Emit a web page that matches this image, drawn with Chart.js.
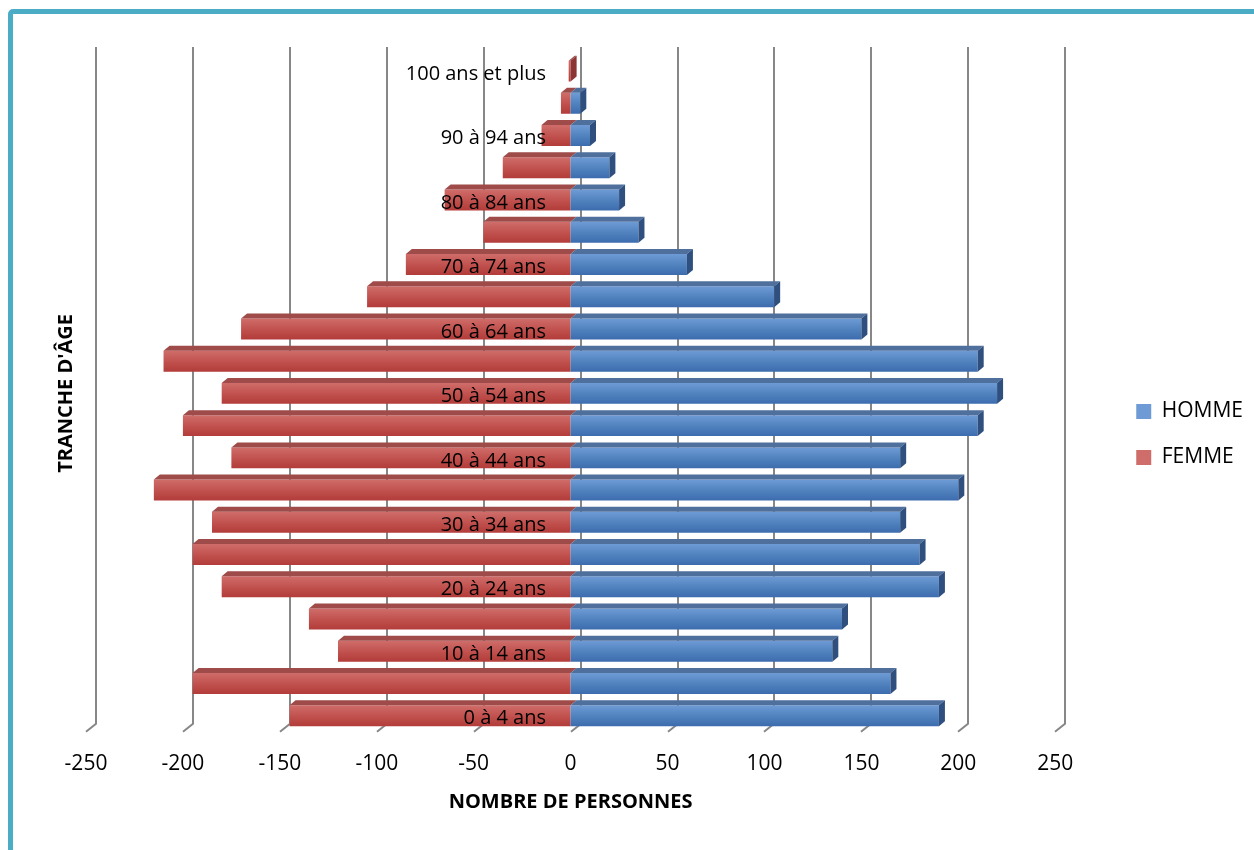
<!DOCTYPE html>
<html lang="fr">
<head>
<meta charset="utf-8">
<title>Pyramide des âges</title>
<script src="https://cdn.jsdelivr.net/npm/chart.js@4.4.1/dist/chart.umd.min.js"></script>
<style>
  html, body { margin: 0; padding: 0; background: #fff; overflow: hidden; }
  #wrap { position: relative; width: 1254px; height: 850px; overflow: hidden; }
  #frame { position: absolute; left: 8px; top: 9px; width: 1300px; height: 900px;
           border: 5px solid #4bacc6; border-radius: 5px; box-sizing: border-box; }
  #topTitle { position: absolute; left: 0; top: -26px; width: 1256px; text-align: center;
              font: italic 22px "Open Sans", sans-serif; line-height: 22px; color: #1f497d; white-space: nowrap; }
  #chart { position: absolute; left: 0; top: 0; }
</style>
</head>
<body>
<div id="wrap">
  <div id="frame"></div>
  <div id="topTitle">Graphique 2 : pyramide des âges de la population, 2012</div>
  <canvas id="chart" width="1254" height="850"></canvas>
</div>
<script>
// tranches d'âge, de la plus jeune (en bas) à la plus âgée (en haut)
const categories = ["0 à 4 ans", "5 à 9 ans", "10 à 14 ans", "15 à 19 ans", "20 à 24 ans",
  "25 à 29 ans", "30 à 34 ans", "35 à 39 ans", "40 à 44 ans", "45 à 49 ans", "50 à 54 ans",
  "55 à 59 ans", "60 à 64 ans", "65 à 69 ans", "70 à 74 ans", "75 à 79 ans", "80 à 84 ans",
  "85 à 89 ans", "90 à 94 ans", "95 à 99 ans", "100 ans et plus"];
const hommes = [190, 165, 135, 140, 190, 180, 170, 200, 170, 210, 220, 210, 150, 105, 60, 35, 25, 20, 10, 5, 0];
const femmes = [-145, -195, -120, -135, -180, -195, -185, -215, -175, -200, -180, -210, -170, -105, -85, -45, -65, -35, -15, -5, -1];
const xTicks = [-250, -200, -150, -100, -50, 0, 50, 100, 150, 200, 250];

const BAR_PCT = 0.65;
const font = 'Open Sans';

// les étiquettes de tranche se terminent un peu avant l'axe 0
const AREA_LEFT = 86, LABEL_RIGHT = 546;
const mctx = document.createElement('canvas').getContext('2d');
mctx.font = '20px "Open Sans"';
const widest = Math.max(...categories.filter((c, i) => i % 2 === 0).map(c => mctx.measureText(c).width));

// dégradé vertical sur chaque barre
function barFill(base, light, dark) {
    return function (c) {
        const chart = c.chart;
        const y = chart.scales && chart.scales.y;
        if (!y || c.type !== 'data' || !chart.chartArea) return base;
        const center = y.getPixelForValue(c.dataIndex);
        const band = Math.abs(y.getPixelForValue(1) - y.getPixelForValue(0));
        const h = band * BAR_PCT / 2;
        const g = chart.ctx.createLinearGradient(0, center - h, 0, center + h);
        g.addColorStop(0, light);
        g.addColorStop(0.55, base);
        g.addColorStop(1, dark);
        return g;
    };
}

function face(ctx, pts, color) {
    ctx.beginPath();
    ctx.moveTo(pts[0][0], pts[0][1]);
    for (let i = 1; i < pts.length; i++) ctx.lineTo(pts[i][0], pts[i][1]);
    ctx.closePath();
    ctx.fillStyle = color;
    ctx.fill();
}

// effet 3D : mur de fond quadrillé + faces du dessus / côté des barres
const pyramid3d = {
    id: 'pyramid3d',
    beforeDatasetsDraw(chart) {
        const { ctx, chartArea: a, scales: { x } } = chart;
        ctx.save();
        ctx.strokeStyle = '#878787';
        ctx.lineWidth = 2;
        xTicks.forEach(v => {
            const px = Math.round(x.getPixelForValue(v));
            ctx.beginPath();
            ctx.moveTo(px + 10, a.top - 8);
            ctx.lineTo(px + 10, a.bottom - 8);
            ctx.lineTo(px, a.bottom);
            ctx.stroke();
        });
        ctx.restore();
    },
    afterDatasetsDraw(chart) {
        const ctx = chart.ctx;
        const dx = 6, dy = 5;
        const male = chart.getDatasetMeta(0).data;
        const female = chart.getDatasetMeta(1).data;
        ctx.save();
        female.forEach((bar, i) => {
            const top = bar.y - bar.height / 2, bottom = bar.y + bar.height / 2;
            const left = Math.min(bar.x, bar.base), right = Math.max(bar.x, bar.base);
            face(ctx, [[left, top], [right, top], [right + dx, top - dy], [left + dx, top - dy]], '#9e4b49');
            if (hommes[i] === 0) {
                face(ctx, [[right, top], [right + dx, top - dy], [right + dx, bottom - dy], [right, bottom]], '#8c3533');
            }
        });
        male.forEach((bar, i) => {
            if (hommes[i] === 0) return;
            const top = bar.y - bar.height / 2, bottom = bar.y + bar.height / 2;
            const left = Math.min(bar.x, bar.base), right = Math.max(bar.x, bar.base);
            face(ctx, [[left, top], [right, top], [right + dx, top - dy], [left + dx, top - dy]], '#4f6f9c');
            face(ctx, [[right, top], [right + dx, top - dy], [right + dx, bottom - dy], [right, bottom]], '#2f4f7f');
        });
        ctx.restore();
    }
};

new Chart(document.getElementById('chart'), {
    type: 'bar',
    data: {
        labels: categories,
        datasets: [{
            label: 'HOMME',
            data: hommes,
            backgroundColor: barFill('#4f81bd', '#6e9bd5', '#3d6cae'),
            borderWidth: 0,
            barPercentage: BAR_PCT,
            categoryPercentage: 1
        }, {
            label: 'FEMME',
            data: femmes,
            backgroundColor: barFill('#c0504d', '#cf6d6a', '#b23c39'),
            borderWidth: 0,
            barPercentage: BAR_PCT,
            categoryPercentage: 1
        }]
    },
    options: {
        indexAxis: 'y',
        responsive: false,
        animation: false,
        layout: { padding: { left: 51, right: 1, top: 55, bottom: 36 } },
        scales: {
            x: {
                type: 'linear',
                min: -250,
                max: 250,
                stacked: true,
                grid: { display: false, drawTicks: false },
                border: { display: false },
                afterBuildTicks: s => { s.ticks = xTicks.map(v => ({ value: v })); },
                ticks: { padding: 20, maxRotation: 0, color: '#000', font: { family: font, size: 21 } },
                title: {
                    display: true,
                    text: 'NOMBRE DE PERSONNES',
                    color: '#000',
                    font: { family: font, size: 20, weight: 'bold' },
                    padding: { top: -7, bottom: 0 }
                }
            },
            y: {
                type: 'category',
                reverse: true,
                stacked: true,
                position: 'left',
                grid: { display: false, drawTicks: false },
                border: { display: false },
                afterFit: s => {
                    s.width = AREA_LEFT - 51;
                    s.paddingTop = 0;
                    s.paddingBottom = 0;
                },
                ticks: {
                    autoSkip: false,
                    mirror: true,
                    crossAlign: 'far',
                    padding: LABEL_RIGHT - AREA_LEFT - widest,
                    labelOffset: 3,
                    z: 1,
                    color: '#000',
                    font: { family: font, size: 20 },
                    callback: (v, i) => (i % 2 === 0 ? categories[i] : '')
                },
                title: {
                    display: true,
                    text: "TRANCHE D'ÂGE",
                    color: '#000',
                    font: { family: font, size: 20, weight: 'bold' },
                    padding: { top: 3, bottom: 0 }
                }
            },
            gap: {
                type: 'linear',
                position: 'right',
                display: true,
                grid: { display: false },
                border: { display: false },
                ticks: { display: false },
                afterFit: s => { s.width = 56; }
            }
        },
        plugins: {
            legend: {
                position: 'right',
                align: 'center',
                labels: {
                    color: '#000',
                    boxWidth: 15,
                    boxHeight: 15,
                    padding: 25,
                    font: { family: font, size: 21 }
                }
            },
            tooltip: { enabled: false }
        }
    },
    plugins: [pyramid3d]
});
</script>
</body>
</html>
